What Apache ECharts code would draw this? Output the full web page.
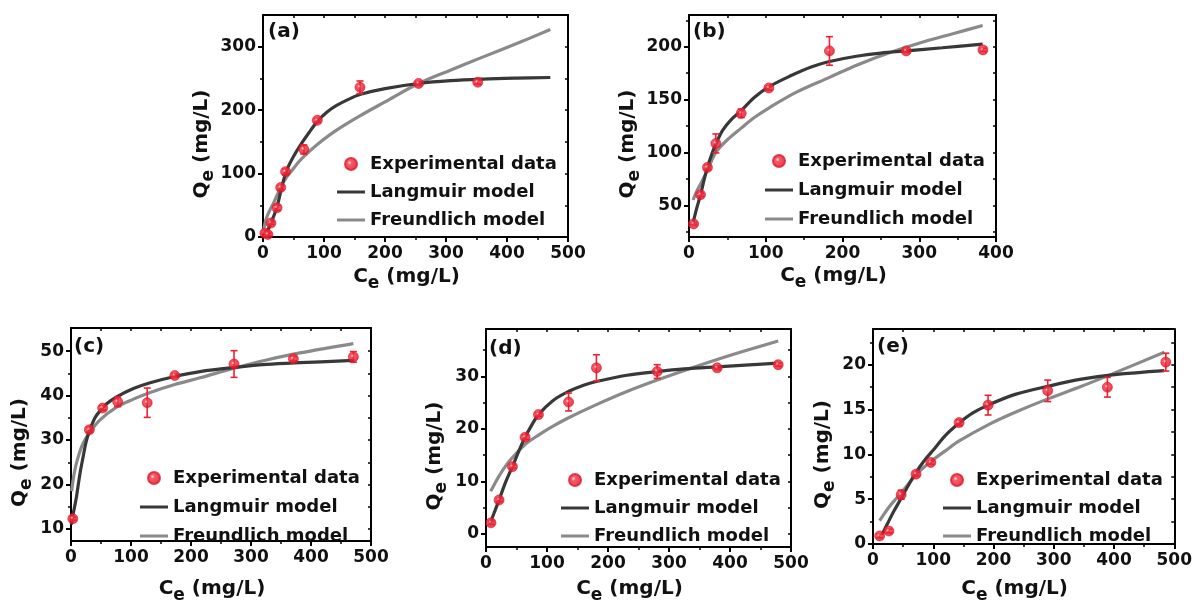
<!DOCTYPE html>
<html>
<head>
<meta charset="utf-8">
<script src="https://cdn.jsdelivr.net/npm/echarts@6/dist/echarts.min.js"></script>
<style>html,body{margin:0;padding:0;background:#fff;}#c{width:1195px;height:605px;}</style>
</head>
<body>
<div id="c"></div>
<script>
// ---------- data ----------
const seriesNames = ['Experimental data', 'Langmuir model', 'Freundlich model'];

// (a)
const expA = [[3,6],[8,4],[13,22],[23,46],[29,78],[37,103],[67,138],[89,184],[159,236],[255,242],[352,244]];
const errA = [2,2,2,4,3,4,7,3,10,3,3];
const langA = [[0.5,0],[5,6],[10,15],[15,27],[20,39],[25,55],[30,76],[35,94],[40,108],[50,127],[60,143],[75,164],[90,183],[105,197],[120,207],[140,217],[160,225],[200,234],[255,242],[307,246.5],[361,249],[416,250.5],[471,251.5]];
const freuA = [[0.5,5],[2,16],[5,28],[10,40],[17,53],[25,70],[37,92],[50,108],[60,120],[75,134],[89,146],[120,168],[159,191],[200,213],[255,242],[307,263],[361,284],[416,305],[471,327]];
const xTicksA = [0,100,200,300,400,500], xMinorA = [50,150,250,350,450];
const yTicksA = [0,100,200,300], yMinorA = [50,150,250];

// (b)
const expB = [[6,32.4],[15,60],[24,85.8],[35,108.5],[68,137],[104,161],[183,196],[283,196],[383,197]];
const errB = [1,1.5,2,9,4,2,13.5,1.5,1.5];
const langB = [[5.2,33],[10,47],[15,60],[20,75],[24,86],[30,99],[35,108],[44,121],[55,131],[68,139.5],[85,152],[104,162],[131,172],[160,181],[183,186],[218,191],[250,194],[283,196],[330,199],[382.6,202.5]];
const freuB = [[5.2,55],[10,63],[15,70],[24,83],[35,100],[50,112],[68,123],[85,133],[104,142],[140,157],[183,171],[220,183],[262,194.5],[305,204.5],[345,212.5],[382.6,220]];
const xTicksB = [0,100,200,300,400], xMinorB = [50,150,250,350];
const yTicksB = [50,100,150,200], yMinorB = [25,75,125,175,225];

// (c)
const expC = [[3,12.3],[30.6,32.3],[52.8,37.2],[77.8,38.6],[127,38.4],[173,44.5],[271.7,47.1],[370.6,48.3],[470.6,48.7]];
const errC = [0.3,0.5,0.5,1.1,3.3,0.4,3,0.5,1.2];
const langC = [[0.5,11],[3,13],[6,15],[9.4,17.5],[15,22.5],[20.6,26.5],[25,29.5],[30.6,32],[40,35],[48,36.5],[60,38.2],[76,39.7],[104,41.6],[132,42.9],[173,44.3],[215,45.4],[270,46.3],[326,47],[381.7,47.4],[470.6,47.9]];
const freuC = [[1,18.5],[3,20.5],[6,23],[9.4,25],[15,27.5],[20.6,29.4],[30,31.5],[48,34.5],[76,37.4],[104,39.2],[132,40.7],[173,42.5],[215,44],[270,46.1],[326,48],[381.7,49.6],[470.6,51.7]];
const xTicksC = [0,100,200,300,400,500], xMinorC = [50,150,250,350,450];
const yTicksC = [10,20,30,40,50], yMinorC = [15,25,35,45];

// (d)
const expD = [[8.2,2.1],[21.4,6.45],[43.3,12.8],[64.1,18.4],[86,22.7],[135.4,25.1],[181,31.6],[280.7,30.9],[379,31.6],[479,32.2]];
const errD = [0.3,0.3,0.3,0.4,0.3,1.7,2.5,1.3,0.3,0.3];
const langD = [[6.6,1.9],[14,4.2],[21.4,6.45],[32,9.8],[43.3,12.8],[54,15.8],[64,18.4],[75,20.7],[86,22.7],[110,25.4],[135,27.1],[160,28.3],[181,29],[231,30.2],[281,30.9],[325,31.4],[379,31.8],[479,32.5]];
const freuD = [[7.7,8.1],[15,9.7],[21.4,11],[32,12.9],[43.3,14.5],[64,17],[86,18.8],[110,20.5],[135.4,22.1],[181,24.6],[231,27.1],[281,29.3],[330,31.3],[379,33.2],[429,35],[479,36.7]];
const xTicksD = [0,100,200,300,400,500], xMinorD = [50,150,250,350,450];
const yTicksD = [0,10,20,30], yMinorD = [5,15,25,35];

// (e)
const expE = [[11,0.9],[26.4,1.45],[46.7,5.5],[71.4,7.8],[96,9.1],[142.9,13.55],[191,15.5],[290,17.1],[389,17.5],[486,20.3]];
const errE = [0.2,0.2,0.5,0.2,0.2,0.3,1.1,1.2,1.1,1];
const langE = [[15.4,1.1],[25,2.4],[35,3.7],[46.7,5.1],[60,6.7],[71.4,8.0],[85,9.3],[99,10.4],[120,12.1],[143,13.5],[165,14.6],[191,15.5],[236,16.7],[290,17.6],[346,18.4],[401,18.9],[483.5,19.35]];
const freuE = [[11,2.6],[20,3.5],[26.4,4.1],[35,4.8],[46.7,5.7],[60,6.8],[71.4,7.75],[96,9.2],[120,10.4],[143,11.5],[191,13.3],[236,14.7],[290,16.2],[346,17.6],[401,19.1],[483.5,21.4]];
const xTicksE = [0,100,200,300,400,500], xMinorE = [50,150,250,350,450];
const yTicksE = [0,5,10,15,20], yMinorE = [2.5,7.5,12.5,17.5,22.5];

// ---------- layout ----------
const panels = [
  {tag:'(a)', g:[263,15,305,222], xr:[0,500], yr:[0,350], exp:expA, err:errA, lang:langA, freu:freuA, xT:xTicksA, xM:xMinorA, yT:yTicksA, yM:yMinorA, xGap:25, yGap:43, lg:[337,155], lgGap:10, tl:[268,22]},
  {tag:'(b)', g:[689,15,307,222], xr:[0,400], yr:[20,230], exp:expB, err:errB, lang:langB, freu:freuB, xT:xTicksB, xM:xMinorB, yT:yTicksB, yM:yMinorB, xGap:24, yGap:37, lg:[765,152], lgGap:11, tl:[693,22]},
  {tag:'(c)', g:[71,328,300,220], xr:[0,500], yr:[7.3,55.2], exp:expC, err:errC, lang:langC, freu:freuC, xT:xTicksC, xM:xMinorC, yT:yTicksC, yM:yMinorC, xGap:33, yGap:36, lg:[140,469], lgGap:11, tl:[74,337]},
  {tag:'(d)', g:[486,329,305,221], xr:[0,500], yr:[-2.5,39], exp:expD, err:errD, lang:langD, freu:freuD, xT:xTicksD, xM:xMinorD, yT:yTicksD, yM:yMinorD, xGap:27, yGap:36, lg:[561,471], lgGap:10, tl:[489,339]},
  {tag:'(e)', g:[873,329,304,222], xr:[0,500], yr:[0,24], exp:expE, err:errE, lang:langE, freu:freuE, xT:xTicksE, xM:xMinorE, yT:yTicksE, yM:yMinorE, xGap:30, yGap:35, lg:[943,471], lgGap:10, tl:[877,337]}
];

const FONT = 'DejaVu Sans';
const BLACK = '#000';
const TXT = '#111';
const RED = '#ea2232';
const LINE_ICON = 'path://M0,0L0.01,0ZM0,4.6L28,4.6L28,7.6L0,7.6ZM0,12L0.01,12Z';
const nameRich = {
  m: {fontSize: 20, fontWeight: 'bold', color: TXT, fontFamily: FONT, lineHeight: 30},
  s: {fontSize: 17, fontWeight: 'bold', color: TXT, fontFamily: FONT, lineHeight: 16, verticalAlign: 'bottom'}
};
const labelStyle = {fontSize: 17, fontWeight: 'bold', color: TXT, fontFamily: FONT};

const grids = [], xAxes = [], yAxes = [], series = [], legends = [], titles = [];

function renderErr(params, api) {
  const x = api.value(0), y = api.value(1), e = api.value(2);
  const p1 = api.coord([x, y + e]);
  const p2 = api.coord([x, y - e]);
  const w = 3.5;
  const st = {stroke: RED, lineWidth: 1.6};
  return {type: 'group', children: [
    {type: 'line', shape: {x1: p1[0], y1: p1[1], x2: p2[0], y2: p2[1]}, style: st},
    {type: 'line', shape: {x1: p1[0]-w, y1: p1[1], x2: p1[0]+w, y2: p1[1]}, style: st},
    {type: 'line', shape: {x1: p2[0]-w, y1: p2[1], x2: p2[0]+w, y2: p2[1]}, style: st}
  ]};
}

panels.forEach((p, i) => {
  grids.push({left: p.g[0], top: p.g[1], width: p.g[2], height: p.g[3], containLabel: false});
  const xb = {gridIndex: i, type: 'value', min: p.xr[0], max: p.xr[1], splitLine: {show: false}};
  const yb = {gridIndex: i, type: 'value', min: p.yr[0], max: p.yr[1], splitLine: {show: false}};
  xAxes.push(Object.assign({}, xb, {
    position: 'bottom',
    axisLine: {onZero: false, lineStyle: {color: BLACK, width: 2}},
    axisTick: {customValues: p.xT, length: 5, lineStyle: {color: BLACK, width: 2}},
    axisLabel: Object.assign({customValues: p.xT, margin: 8}, labelStyle),
    name: '{m|C}{s|e}{m| (mg/L)}', nameLocation: 'middle', nameGap: p.xGap,
    nameTextStyle: {rich: nameRich, padding: [0, 18, 0, 0]}
  }));
  xAxes.push(Object.assign({}, xb, {
    position: 'bottom', axisLine: {show: false, onZero: false},
    axisTick: {customValues: p.xM, length: 3, lineStyle: {color: BLACK, width: 1.5}},
    axisLabel: {show: false}
  }));
  xAxes.push(Object.assign({}, xb, {
    position: 'top', axisLine: {onZero: false, lineStyle: {color: BLACK, width: 2}},
    axisTick: {inside: true, customValues: p.xT.concat(p.xM), length: 3, lineStyle: {color: BLACK, width: 1.5}},
    axisLabel: {show: false}
  }));
  yAxes.push(Object.assign({}, yb, {
    position: 'left',
    axisLine: {onZero: false, lineStyle: {color: BLACK, width: 2}},
    axisTick: {customValues: p.yT, length: 5, lineStyle: {color: BLACK, width: 2}},
    axisLabel: Object.assign({customValues: p.yT, margin: 7}, labelStyle),
    name: '{m|Q}{s|e}{m| (mg/L)}', nameLocation: 'middle', nameGap: p.yGap,
    nameTextStyle: {rich: nameRich, padding: [0, 36, 0, 0]}
  }));
  yAxes.push(Object.assign({}, yb, {
    position: 'left', axisLine: {show: false, onZero: false},
    axisTick: {customValues: p.yM, length: 3, lineStyle: {color: BLACK, width: 1.5}},
    axisLabel: {show: false}
  }));
  yAxes.push(Object.assign({}, yb, {
    position: 'right', axisLine: {onZero: false, lineStyle: {color: BLACK, width: 2}},
    axisTick: {inside: true, customValues: p.yT.concat(p.yM), length: 3, lineStyle: {color: BLACK, width: 1.5}},
    axisLabel: {show: false}
  }));

  const xi = 3 * i, yi = 3 * i;
  series.push({
    name: seriesNames[2], type: 'line', xAxisIndex: xi, yAxisIndex: yi,
    data: p.freu, smooth: 0.35, symbol: 'none', showSymbol: false, z: 2,
    color: '#8a8a8a', lineStyle: {color: '#8a8a8a', width: 3.2}
  });
  series.push({
    name: seriesNames[1], type: 'line', xAxisIndex: xi, yAxisIndex: yi,
    data: p.lang, smooth: 0.35, symbol: 'none', showSymbol: false, z: 3,
    color: '#383838', lineStyle: {color: '#383838', width: 3.2}
  });
  series.push({
    name: 'error', type: 'custom', xAxisIndex: xi, yAxisIndex: yi, z: 4,
    renderItem: renderErr, silent: true,
    data: p.exp.map((d, k) => [d[0], d[1], p.err[k]])
  });
  series.push({
    name: seriesNames[0], type: 'scatter', xAxisIndex: xi, yAxisIndex: yi, z: 5,
    data: p.exp, symbol: 'circle', symbolSize: 10,
    itemStyle: {
      color: {type: 'radial', x: 0.4, y: 0.4, r: 0.6, colorStops: [
        {offset: 0, color: '#ffe0e3'}, {offset: 0.25, color: '#f5303f'}, {offset: 1, color: '#dc1022'}]},
      borderColor: '#e01a2c', borderWidth: 0.8
    }
  });

  legends.push({
    data: [
      {name: seriesNames[0], icon: 'circle'},
      {name: seriesNames[1], icon: LINE_ICON},
      {name: seriesNames[2], icon: LINE_ICON}
    ],
    orient: 'vertical', left: p.lg[0], top: p.lg[1],
    itemWidth: 28, itemHeight: 12, itemGap: p.lgGap, selectedMode: false, padding: 0,
    textStyle: {fontSize: 18, fontWeight: 'bold', color: TXT, fontFamily: FONT}
  });
  titles.push({
    text: p.tag, left: p.tl[0], top: p.tl[1], padding: 0,
    textStyle: {fontSize: 20, fontWeight: 'bold', color: TXT, fontFamily: FONT}
  });
});

const chart = echarts.init(document.getElementById('c'), null, {renderer: 'canvas'});
chart.setOption({
  backgroundColor: '#fff',
  animation: false,
  textStyle: {fontFamily: FONT},
  title: titles,
  legend: legends,
  grid: grids,
  xAxis: xAxes,
  yAxis: yAxes,
  series: series
});
</script>
</body>
</html>
